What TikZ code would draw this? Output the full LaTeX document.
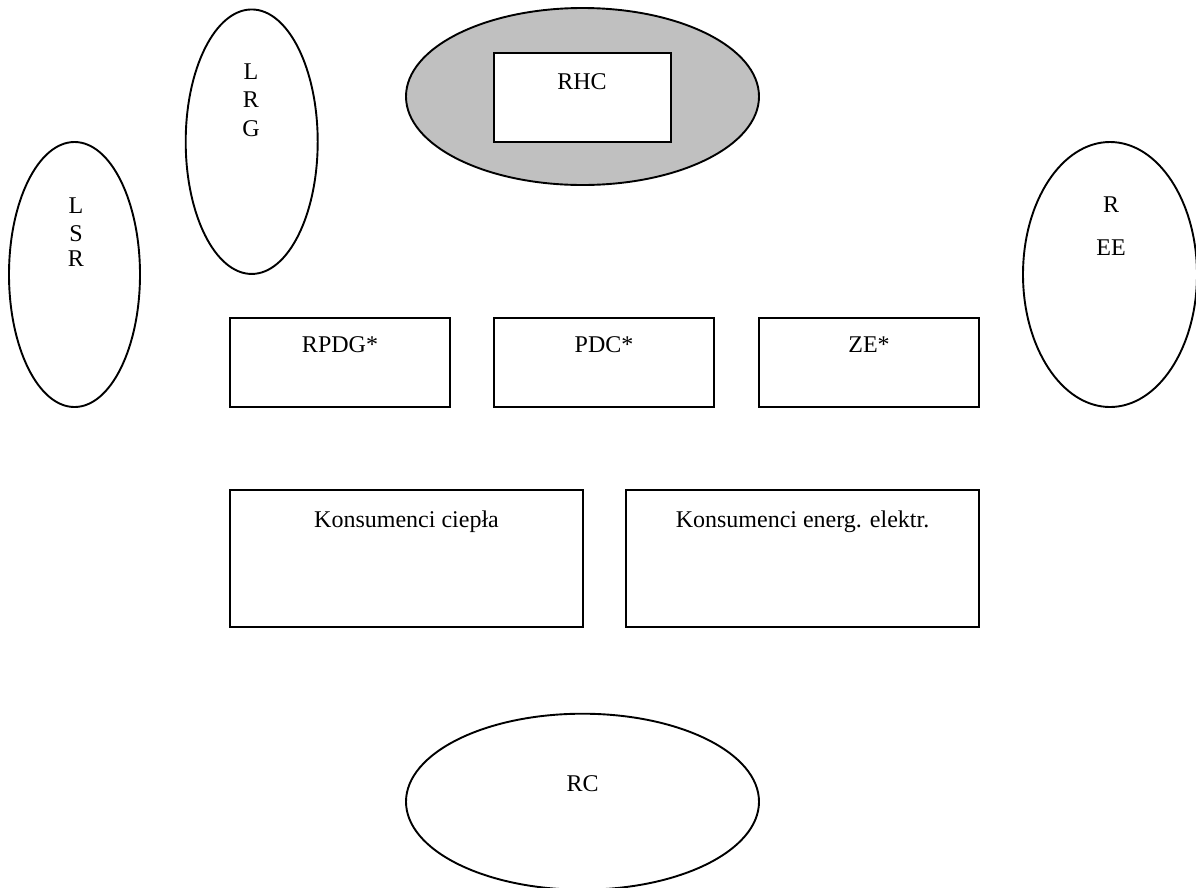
\documentclass[tikz,border=0pt]{standalone}
\usepackage{fontspec}
\setmainfont{Liberation Serif}
\usetikzlibrary{shapes.geometric}
\definecolor{shade}{RGB}{192,192,192}
\tikzset{
  oval/.style={draw=black, line width=1.9pt, ellipse, inner sep=0pt},
  box/.style={draw=black, line width=1.9pt, rectangle, inner sep=0pt, fill=white},
  lbl/.style={anchor=base, inner sep=0pt, font=\fontsize{24}{28}\selectfont}
}
\begin{document}
\begin{tikzpicture}[x=1pt,y=-1pt]
\useasboundingbox (0,0) rectangle (1196,887);
% ellipses
\node[oval, minimum width=131pt, minimum height=265pt] (lsr) at (74.5,274.5) {};
\node[oval, minimum width=132pt, minimum height=264.5pt] (lrg) at (251.7,141.7) {};
\node[oval, fill=shade, minimum width=353pt, minimum height=177pt] (rhcOval) at (582.5,96.5) {};
\node[oval, minimum width=174pt, minimum height=265pt] (ree) at (1110,274.5) {};
\node[oval, minimum width=353pt, minimum height=176pt] (rc) at (582.5,801.7) {};
% boxes
\node[box, minimum width=177pt, minimum height=89pt] (rhc) at (582.5,97.5) {};
\node[box, minimum width=220pt, minimum height=89pt] (rpdg) at (340,362.5) {};
\node[box, minimum width=220pt, minimum height=89pt] (pdc) at (604,362.5) {};
\node[box, minimum width=220pt, minimum height=89pt] (ze) at (869,362.5) {};
\node[box, minimum width=353pt, minimum height=137pt] (kc) at (406.5,558.5) {};
\node[box, minimum width=353pt, minimum height=137pt] (ke) at (802.5,558.5) {};
% labels
\node[lbl] (lsrA) at (76,213) {L};
\node[lbl] (lsrB) at (76,241) {S};
\node[lbl] (lsrC) at (76,266) {R};
\node[lbl] (lrgA) at (251,79) {L};
\node[lbl] (lrgB) at (251,107) {R};
\node[lbl] (lrgC) at (251,136) {G};
\node[lbl] (reeA) at (1111,212) {R};
\node[lbl] (reeB) at (1111,255) {EE};
\node[lbl] (rhcT) at (582,89) {RHC};
\node[lbl] (rpdgT) at (340,352) {RPDG*};
\node[lbl] (pdcT) at (604,352) {PDC*};
\node[lbl] (zeT) at (869,352) {ZE*};
\node[lbl] (kcT) at (406.5,527) {Konsumenci ciepła};
\node[lbl] (keT) at (802.5,527) {Konsumenci energ. elektr.};
\node[lbl] (rcT) at (582.5,791) {RC};
\end{tikzpicture}
\end{document}
